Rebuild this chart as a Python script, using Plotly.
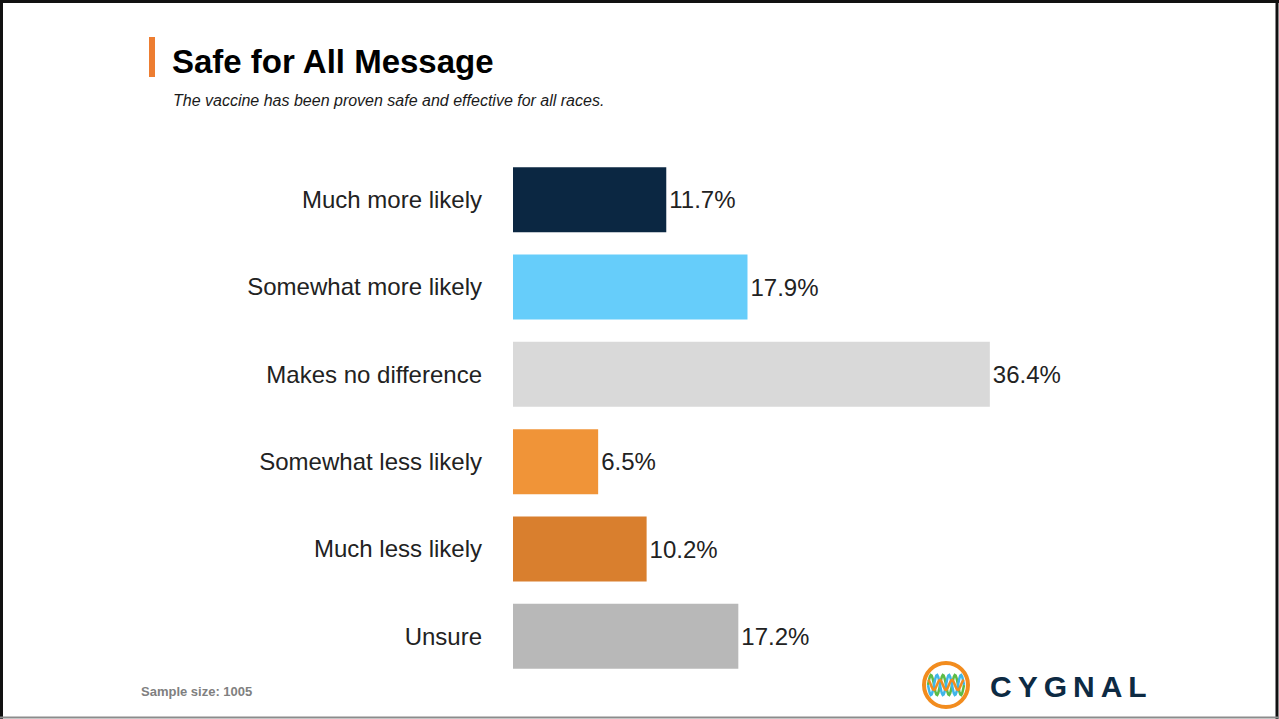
import numpy as np
import plotly.graph_objects as go

# data
categories = [
    "Much more likely",
    "Somewhat more likely",
    "Makes no difference",
    "Somewhat less likely",
    "Much less likely",
    "Unsure",
]
shares = [11.7, 17.9, 36.4, 6.5, 10.2, 17.2]
bar_colors = ["#0B2742", "#66CDFA", "#D9D9D9", "#F09438", "#D97F2E", "#B8B8B8"]

W, H = 1279, 719
L, T = 513, 156
PW, PH = 655, 524
R, B = W - L - PW, H - T - PH


def px(x):
    return (x - L) / PW


def py(y):
    return 1 - (y - T) / PH


FONT = "Liberation Sans, Arial, sans-serif"

fig = go.Figure(
    go.Bar(
        y=categories,
        x=shares,
        orientation="h",
        marker=dict(color=bar_colors, line=dict(width=0)),
        text=[f"{v:.1f}%" for v in shares],
        textposition="outside",
        textfont=dict(family=FONT, size=24, color="#222222"),
        cliponaxis=False,
        hoverinfo="skip",
    )
)

shapes = []
# page frame
shapes.append(dict(type="line", xref="paper", yref="paper", x0=px(1.5), x1=px(1.5), y0=py(0), y1=py(719),
                   line=dict(color="#111111", width=3)))
shapes.append(dict(type="line", xref="paper", yref="paper", x0=px(0), x1=px(1279), y0=py(1.5), y1=py(1.5),
                   line=dict(color="#111111", width=3)))
shapes.append(dict(type="line", xref="paper", yref="paper", x0=px(1277), x1=px(1277), y0=py(0), y1=py(719),
                   line=dict(color="#111111", width=3)))
shapes.append(dict(type="line", xref="paper", yref="paper", x0=px(0), x1=px(1279), y0=py(717.5), y1=py(717.5),
                   line=dict(color="#8c8c8c", width=2)))
# title accent
shapes.append(dict(type="rect", xref="paper", yref="paper", x0=px(149), x1=px(155), y0=py(77), y1=py(37),
                   fillcolor="#ED7D31", line=dict(width=0)))
# logo ring
cx, cy, rr = 946, 685, 22
shapes.append(dict(type="circle", xref="paper", yref="paper", x0=px(cx - rr), x1=px(cx + rr),
                   y0=py(cy + rr), y1=py(cy - rr), line=dict(color="#F28C1E", width=4)))
t = np.linspace(-1, 1, 40)
for amp, ph, col in [(10, 0.0, "#5DBB46"), (10, 3.14, "#3FB5E8"), (5, 1.6, "#F28C1E")]:
    xs = cx + t * (rr - 4)
    ys = cy + amp * np.sin(t * 3 * np.pi + ph)
    path = "M " + " L ".join(f"{px(a):.5f},{py(b):.5f}" for a, b in zip(xs, ys))
    shapes.append(dict(type="path", xref="paper", yref="paper", path=path,
                       line=dict(color=col, width=2.5)))

annotations = [
    dict(text="<b>Safe for All Message</b>", x=px(170), y=py(61), xref="paper", yref="paper",
         xanchor="left", yanchor="middle", showarrow=False,
         font=dict(family=FONT, size=33, color="#000000")),
    dict(text="<i>The vaccine has been proven safe and effective for all races.</i>", x=px(171), y=py(101),
         xref="paper", yref="paper", xanchor="left", yanchor="middle", showarrow=False,
         font=dict(family=FONT, size=16, color="#1a1a1a")),
    dict(text="<b>Sample size: 1005</b>", x=px(139), y=py(691), xref="paper", yref="paper",
         xanchor="left", yanchor="middle", showarrow=False,
         font=dict(family=FONT, size=13, color="#808080")),
    dict(text="<b>C\u2009Y\u2009G\u2009N\u2009A\u2009L</b>", x=px(988), y=py(686), xref="paper", yref="paper",
         xanchor="left", yanchor="middle", showarrow=False,
         font=dict(family=FONT, size=30, color="#0D2A43")),
]

fig.update_layout(
    width=W,
    height=H,
    margin=dict(l=L, r=R, t=T, b=B),
    paper_bgcolor="white",
    plot_bgcolor="white",
    showlegend=False,
    bargap=0.256,
    xaxis=dict(range=[0, 50], visible=False, fixedrange=True),
    yaxis=dict(
        autorange="reversed",
        showgrid=False,
        zeroline=False,
        showline=False,
        ticks="",
        ticklabelstandoff=30,
        tickfont=dict(family=FONT, size=24, color="#222222"),
        fixedrange=True,
    ),
    shapes=shapes,
    annotations=annotations,
)

# drop the default body margin so the figure fills the window
fig.write_html(
    "out.html",
    config={"displayModeBar": False},
    post_script="document.body.style.margin='0';document.body.style.overflow='hidden';",
)
